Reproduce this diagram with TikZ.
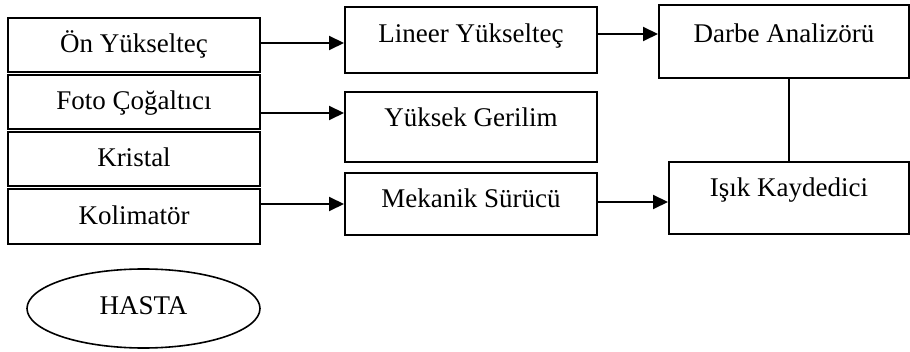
\documentclass[tikz,border=0pt]{standalone}
\usepackage{fontspec}
\setmainfont{Liberation Serif}
\usetikzlibrary{positioning, arrows.meta, shapes.geometric}

\begin{document}
\begin{tikzpicture}[
                x=0.5pt, y=-0.5pt,
                node distance=0.5pt,
                box/.style={rectangle, draw=black, line width=1pt, minimum width=126pt, minimum height=27pt, inner sep=0pt, align=center, font=\fontsize{13.5}{15}\selectfont, text height=8.5pt, text depth=1pt},
                oval/.style={ellipse, draw=black, line width=0.8pt, minimum width=116.5pt, minimum height=39.5pt, inner sep=0pt, font=\fontsize{13.5}{15}\selectfont, text height=8.5pt, text depth=2.5pt},
                arrow/.style={-{Triangle[length=7.5pt, width=7pt]}, line width=1pt}
            ]
            \useasboundingbox (0,0) rectangle (910,352);

            % dedektor
            \node[box] (pre) at (134,45.5) {Ön Yükselteç};
            \node[box, below=of pre] (foto) {Foto Çoğaltıcı};
            \node[box, below=of foto] (kristal) {Kristal};
            \node[box, below=of kristal, minimum height=27.5pt] (kolim) {Kolimatör};

            \node[box, minimum height=33pt, text depth=5.5pt] (lineer) at (471,40) {Lineer Yükselteç};
            \node[box, minimum height=35pt, text depth=8.5pt] (yuksek) at (471,127) {Yüksek Gerilim};
            \node[box, minimum height=31pt, text depth=4.5pt] (mekanik) at (471,204) {Mekanik Sürücü};

            \node[box, minimum width=125pt, minimum height=36.5pt, text depth=7pt] (darbe) at (784,41.5) {Darbe Analizörü};
            \node[box, minimum width=120pt, minimum height=36pt, text depth=9.8pt] (isik) at (789,198) {Işık Kaydedici};

            \node[oval] (hasta) at (143.5,308.5) {HASTA};

            \draw[arrow] ([yshift=1.25pt]pre.east) -- ([yshift=1.25pt]pre.east -| lineer.west);
            \draw[arrow] ([yshift=-5.25pt]foto.east) -- ([yshift=-5.25pt]foto.east -| yuksek.west);
            \draw[arrow] (mekanik.west -| kolim.east) -- (mekanik.west);
            \draw[arrow] ([yshift=3pt]lineer.east) -- ([yshift=3pt]lineer.east -| darbe.west);
            \draw[arrow] ([yshift=1pt]mekanik.east) -- ([yshift=1pt]mekanik.east -| isik.west);
            \draw[line width=1pt] (isik.north) -- (isik.north |- darbe.south);
        \end{tikzpicture}
\end{document}
